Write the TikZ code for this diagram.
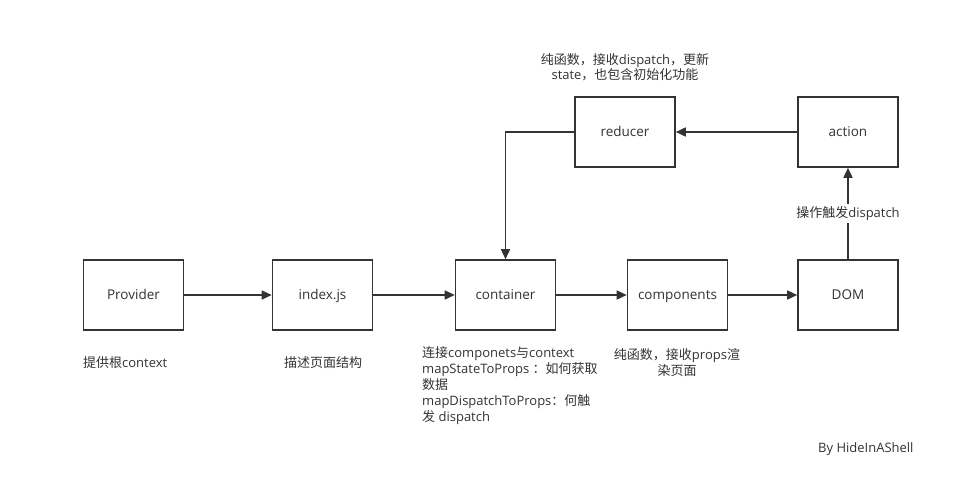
\documentclass[tikz,border=0pt]{standalone}
\usepackage{fontspec}
\setmainfont{Open Sans}
\newfontfamily\cjk{Noto Sans CJK SC}
\usetikzlibrary{arrows.meta}
\definecolor{ink}{HTML}{333333}
\newcommand{\zh}[1]{{\cjk #1}}
\tikzset{
  box/.style={draw=ink, line width=1.6pt, minimum width=100pt, minimum height=70pt, inner sep=0pt,
    text=ink, text height=12pt, text depth=2.4pt, font=\fontsize{13.5}{16}\selectfont},
  link/.style={draw=ink, line width=1.6pt, -{Triangle[length=10pt,width=9pt]}},
  note/.style={text=ink, inner sep=0pt, font=\fontsize{13}{16}\selectfont},
}
\begin{document}
\begin{tikzpicture}[x=1pt, y=-1pt]
  \useasboundingbox[fill=white] (0,0) rectangle (980,501);

  % main row
  \node[box] (provider) at (133.5,295) {Provider};
  \node[box] (index) at (322.5,295) {index.js};
  \node[box] (container) at (505.5,295) {container};
  \node[box] (components) at (677.5,295) {components};
  \node[box] (dom) at (848,295) {DOM};

  % upper row
  \node[box] (reducer) at (625,132) {reducer};
  \node[box] (action) at (848,132) {action};

  % connectors
  \draw[link] (provider) -- (index);
  \draw[link] (index) -- (container);
  \draw[link] (container) -- (components);
  \draw[link] (components) -- (dom);
  \draw[link] (action) -- (reducer);
  \draw[link] (reducer.west) -| (container.north);
  \draw[link] (dom.north) -- node[note, fill=white, inner ysep=2pt] (dispatchlabel) {\zh{操作触发}dispatch} (action.south);

  % annotations
  \node[note, align=center, font=\fontsize{13}{15}\selectfont] (reducernote) at (625,67.5)
    {\zh{纯函数，接收}dispatch\zh{，更新}\\state\zh{，也包含初始化功能}};
  \node[note, anchor=west] (providernote) at (83,363) {\zh{提供根}context};
  \node[note, anchor=west] (indexnote) at (284,363) {\zh{描述页面结构}};
  \node[note, anchor=west, align=left] (containernote) at (422,386)
    {\zh{连接}componets\zh{与}context\\mapStateToProps \zh{：如何获取}\\\zh{数据}\\mapDispatchToProps\zh{：何触}\\\zh{发} dispatch};
  \node[note, align=center] (componentsnote) at (677,363)
    {\zh{纯函数，接收}props\zh{渲}\\\zh{染页面}};
  \node[note, anchor=west] (author) at (818,449) {By HideInAShell};
\end{tikzpicture}
\end{document}
